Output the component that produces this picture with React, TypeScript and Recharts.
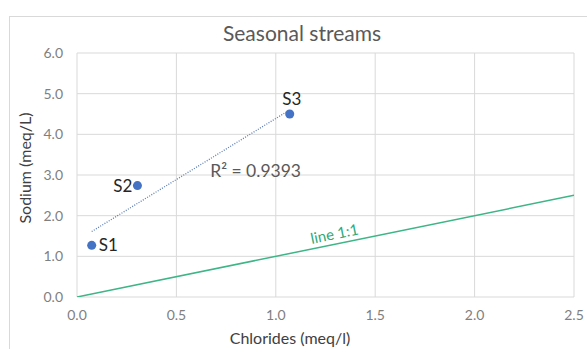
import { ScatterChart, Scatter, XAxis, YAxis, CartesianGrid, LabelList, ReferenceDot } from "recharts";

// samples
const SAMPLE_NAMES = ["S1", "S2", "S3"];
const CHLORIDES = [0.074, 0.304, 1.07];
const SODIUM = [1.27, 2.74, 4.5];

// linear trendline through the samples (end points)
const TREND_X = [0.074, 1.07];
const TREND_Y = [1.61, 4.6];
const R_SQUARED = 0.9393;

// 1:1 reference line
const ONE_TO_ONE_X = [0, 2.5];
const ONE_TO_ONE_Y = [0, 2.5];

const X_TICKS = [0, 0.5, 1, 1.5, 2, 2.5];
const Y_TICKS = [0, 1, 2, 3, 4, 5, 6];

const FONT = "Lato, 'Open Sans', sans-serif";
const BLUE = "#4472C4";
const GREEN = "#3DB587";
const GRAY_TEXT = "#595959";
const TICK_TEXT = "#7F7F7F";

const samples = SAMPLE_NAMES.map((name, i) => ({ name, x: CHLORIDES[i], y: SODIUM[i] }));
const trend = TREND_X.map((x, i) => ({ x, y: TREND_Y[i] }));
const oneToOne = ONE_TO_ONE_X.map((x, i) => ({ x, y: ONE_TO_ONE_Y[i] }));

const LABEL_SIDE: Record<string, "left" | "right" | "top"> = { S1: "right", S2: "left", S3: "top" };

function SampleLabel(props: any) {
  const { x, y, width, height, value } = props;
  const cx = x + (width ?? 0) / 2;
  const cy = y + (height ?? 0) / 2;
  const side = LABEL_SIDE[value];
  let tx = cx, ty = cy + 6, anchor: "start" | "end" | "middle" = "start";
  if (side === "right") { tx = cx + 7; anchor = "start"; }
  if (side === "left") { tx = cx - 5; anchor = "end"; }
  if (side === "top") { tx = cx + 2; ty = cy - 9; anchor = "middle"; }
  return (
    <text x={tx} y={ty} textAnchor={anchor} fontFamily={FONT} fontSize={17} fill="#262626">
      {value}
    </text>
  );
}

const noDot = () => <g />;

export default function App() {
  return (
    <div style={{ position: "absolute", left: 0, top: 0, width: 587, height: 349, overflow: "hidden", background: "#fff" }}>
      <div style={{ position: "absolute", left: 9, top: 16, width: 700, height: 400, borderLeft: "1px solid #D9D9D9", borderTop: "1px solid #D9D9D9" }} />
      <div style={{ position: "absolute", left: 0, width: 604, top: 19, textAlign: "center", fontFamily: FONT, fontSize: 21, color: GRAY_TEXT, lineHeight: "28px" }}>
        Seasonal streams
      </div>
      <div style={{ position: "absolute", left: 0, width: 580, top: 328, textAlign: "center", fontFamily: FONT, fontSize: 16, color: "#404040", lineHeight: "20px" }}>
        Chlorides (meq/l)
      </div>
      <div style={{ position: "absolute", left: 25 - 70, top: 168 - 10, width: 140, height: 20, transform: "rotate(-90deg)", textAlign: "center", fontFamily: FONT, fontSize: 16, color: "#404040", lineHeight: "20px" }}>
        Sodium (meq/L)
      </div>
      <div style={{ position: "absolute", left: 0, top: 0 }}>
        <ScatterChart width={587} height={349} margin={{ top: 53, right: 13, bottom: 0, left: 0 }}>
          <CartesianGrid stroke="#D9D9D9" />
          <XAxis
            type="number"
            dataKey="x"
            domain={[0, 2.5]}
            ticks={X_TICKS}
            tickFormatter={(v: number) => v.toFixed(1)}
            axisLine={false}
            tickLine={false}
            tickSize={0}
            tickMargin={13}
            height={52}
            tick={{ fontFamily: FONT, fontSize: 14, fill: TICK_TEXT }}
            allowDataOverflow
          />
          <YAxis
            type="number"
            dataKey="y"
            domain={[0, 6]}
            ticks={Y_TICKS}
            tickFormatter={(v: number) => v.toFixed(1)}
            axisLine={false}
            tickLine={false}
            tickSize={0}
            tickMargin={14}
            width={77}
            tick={{ fontFamily: FONT, fontSize: 14, fill: TICK_TEXT }}
            allowDataOverflow
          />
          <Scatter
            data={oneToOne}
            line={{ stroke: GREEN, strokeWidth: 1.5 }}
            shape={noDot}
            isAnimationActive={false}
          />
          <Scatter
            data={trend}
            line={{ stroke: "#5B7DB8", strokeWidth: 1.3, strokeDasharray: "1 1.5" }}
            shape={noDot}
            isAnimationActive={false}
          />
          <Scatter data={samples} fill={BLUE} shape="circle" isAnimationActive={false}>
            <LabelList dataKey="name" content={SampleLabel} />
          </Scatter>
          <ReferenceDot
            x={0.67}
            y={3.1}
            r={0}
            shape={(p: any) => (
              <text x={p.cx} y={p.cy + 6} fontFamily={FONT} fontSize={17.5} fill={GRAY_TEXT}>
                R² = {R_SQUARED}
              </text>
            )}
          />
          <ReferenceDot
            x={1.3}
            y={1.3}
            r={0}
            shape={(p: any) => (
              <text
                x={p.cx}
                y={p.cy - 5}
                textAnchor="middle"
                fontFamily={FONT}
                fontSize={15}
                fill="#2EA878"
                transform={`rotate(-11.5 ${p.cx} ${p.cy - 5})`}
              >
                line 1:1
              </text>
            )}
          />
        </ScatterChart>
      </div>
    </div>
  );
}
